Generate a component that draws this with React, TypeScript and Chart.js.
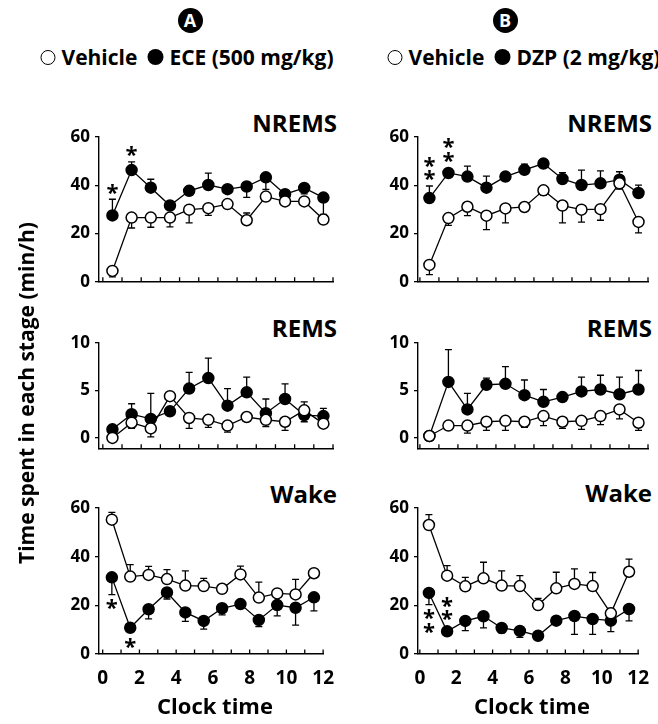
import React, { useEffect, useRef } from "react";
import { Chart, registerables } from "chart.js";
Chart.register(...registerables);

const FAMILY = "'Open Sans', 'DejaVu Sans', sans-serif";

// ---------- data ----------
const hours = [0.5, 1.5, 2.5, 3.5, 4.5, 5.5, 6.5, 7.5, 8.5, 9.5, 10.5, 11.5];
const hourTicks = [0, 1, 2, 3, 4, 5, 6, 7, 8, 9, 10, 11, 12];
const xLabelTicks = [0, 2, 4, 6, 8, 10, 12];
const ticks60 = [0, 20, 40, 60];
const ticks10 = [0, 5, 10];

// NREMS (min/h), signed SEM: + drawn upward, - drawn downward
const nremsVehA = [4.5, 26.6, 26.6, 26.6, 29.9, 30.5, 32.2, 25.5, 35.3, 33.3, 33.3, 25.8];
const nremsVehAErr = [-2.5, -4.3, -4, -3.8, -5.5, -3, -1, 3, -1, -1, -1, -1];
const nremsEce = [27.5, 46.3, 39, 31.6, 37.7, 40.1, 38.4, 39.5, 43.3, 36.3, 38.9, 34.9];
const nremsEceErr = [6.7, 3.4, 3.5, 1, 1, 4.9, 1, -4.5, -5, 1, -2.5, -7];
const nremsVehB = [7, 26.4, 31.1, 27.4, 30.4, 31, 37.9, 31.6, 29.9, 30.1, 40.8, 24.8];
const nremsVehBErr = [-4, -3, -3.7, -5.8, -6, -1, -2, -7.2, -5.2, -4.6, -2.4, -4.5];
const nremsDzp = [34.7, 45.1, 43.6, 39, 43.6, 46.4, 49, 42.6, 40.1, 40.8, 42.3, 36.8];
const nremsDzpErr = [5, 1, 4.3, 4.8, 1, 2.4, 1, 2.6, 6.2, 5.2, 3.3, 3.3];

// REMS
const remsVehA = [0, 1.6, 1.0, 4.4, 2.1, 1.9, 1.3, 2.2, 1.9, 1.7, 2.9, 1.5];
const remsVehAErr = [-0.2, -0.6, -0.9, -0.3, -1.1, -0.8, -0.7, -0.3, -0.7, -0.9, 0.9, -0.3];
const remsEce = [0.9, 2.5, 2.0, 2.8, 5.2, 6.3, 3.4, 4.8, 2.6, 4.1, 2.4, 2.3];
const remsEceErr = [0.3, 1.1, 2.7, 0.3, 1.7, 2.1, 1.8, 1.6, 1.5, 1.6, -0.7, 0.8];
const remsVehB = [0.2, 1.3, 1.3, 1.7, 1.8, 1.7, 2.3, 1.7, 1.8, 2.3, 3.0, 1.6];
const remsVehBErr = [-0.2, -0.3, -0.8, -0.9, -1.0, -0.6, -1.0, -0.7, -0.9, -0.9, -1.0, -0.8];
const remsDzp = [0.2, 5.9, 3.0, 5.6, 5.7, 4.5, 3.8, 4.3, 4.9, 5.1, 4.6, 5.1];
const remsDzpErr = [0.1, 3.4, 1.7, 0.7, 1.8, 1.6, 1.3, 0.3, 1.5, 1.5, 1.8, 2.0];

// Wake
const wakeVehA = [55.2, 31.8, 32.5, 30.8, 28.1, 27.9, 26.8, 32.7, 23.2, 24.9, 24.5, 33.2];
const wakeVehAErr = [3, 4.9, 3.5, 3.9, 6.1, 3.2, 1, 3.4, 6.3, 1, 6.2, 1];
const wakeEce = [31.5, 10.8, 18.4, 25.3, 17.1, 13.6, 18.8, 20.5, 14, 20.1, 19.0, 23.3];
const wakeEceErr = [-7.1, -1.5, -4, -2.7, -3.7, -3.4, -2.7, -1, -2.7, -4.4, -7.1, -5.6];
const wakeVehB = [53, 32.2, 27.8, 31.1, 28.1, 27.9, 20.1, 27, 28.8, 27.9, 16.7, 33.8];
const wakeVehBErr = [4.3, 4.1, 3.7, 6.6, 6.1, 4.3, 2.8, 6.6, 6.2, 5.6, 2, 5.2];
const wakeDzp = [25.1, 9.3, 13.6, 15.5, 10.7, 9.5, 7.5, 13.7, 15.6, 14.4, 13.7, 18.5];
const wakeDzpErr = [-4.8, -1.5, -4, -4.8, -2, -2.7, -1, -1, -7.5, -6.3, -4.5, -4.9];

// significance marks: point index, number of asterisks, side
type Star = { i: number; n: number; side: "above" | "below" };
const nremsEceStars: Star[] = [{ i: 0, n: 1, side: "above" }, { i: 1, n: 1, side: "above" }];
const nremsDzpStars: Star[] = [{ i: 0, n: 2, side: "above" }, { i: 1, n: 2, side: "above" }];
const wakeEceStars: Star[] = [{ i: 0, n: 1, side: "below" }, { i: 1, n: 1, side: "below" }];
const wakeDzpStars: Star[] = [{ i: 0, n: 2, side: "below" }, { i: 1, n: 2, side: "above" }];

// ---------- layout ----------
type Series = { values: number[]; errs: number[]; filled: boolean; stars?: Star[] };
type PanelSpec = {
  id: string;
  left: number; top: number; width: number; height: number;
  xMin: number; yMin: number; yMax: number; yTicks: number[];
  showXLabels: boolean; series: Series[];
};

const L = { left: 99, width: 234, xMin: -0.2 };
const R = { left: 418, width: 230, xMin: -0.1 };
const ROW_N = { top: 136.7, height: 146, yMin: 0, yMax: 60, yTicks: ticks60 };
const ROW_R = { top: 343, height: 107, yMin: -1.15, yMax: 10, yTicks: ticks10 };
const ROW_W = { top: 508, height: 146, yMin: 0, yMax: 60, yTicks: ticks60 };

const panels: PanelSpec[] = [
  { id: "nA", ...L, ...ROW_N, showXLabels: false, series: [
    { values: nremsVehA, errs: nremsVehAErr, filled: false },
    { values: nremsEce, errs: nremsEceErr, filled: true, stars: nremsEceStars }] },
  { id: "nB", ...R, ...ROW_N, showXLabels: false, series: [
    { values: nremsVehB, errs: nremsVehBErr, filled: false },
    { values: nremsDzp, errs: nremsDzpErr, filled: true, stars: nremsDzpStars }] },
  { id: "rA", ...L, ...ROW_R, showXLabels: false, series: [
    { values: remsVehA, errs: remsVehAErr, filled: false },
    { values: remsEce, errs: remsEceErr, filled: true }] },
  { id: "rB", ...R, ...ROW_R, showXLabels: false, series: [
    { values: remsVehB, errs: remsVehBErr, filled: false },
    { values: remsDzp, errs: remsDzpErr, filled: true }] },
  { id: "wA", ...L, ...ROW_W, showXLabels: true, series: [
    { values: wakeVehA, errs: wakeVehAErr, filled: false },
    { values: wakeEce, errs: wakeEceErr, filled: true, stars: wakeEceStars }] },
  { id: "wB", ...R, ...ROW_W, showXLabels: true, series: [
    { values: wakeVehB, errs: wakeVehBErr, filled: false },
    { values: wakeDzp, errs: wakeDzpErr, filled: true, stars: wakeDzpStars }] },
];

const POINT_R = 5.5;

const errorBarPlugin = {
  id: "errorBars",
  beforeDatasetsDraw(chart: any) {
    const ctx = chart.ctx;
    const ys = chart.scales.y;
    chart.data.datasets.forEach((ds: any, di: number) => {
      const meta = chart.getDatasetMeta(di);
      ds.errs.forEach((e: number, j: number) => {
        const pt = meta.data[j];
        const v = ds.data[j].y;
        const y0 = ys.getPixelForValue(v);
        const y1 = ys.getPixelForValue(v + e);
        ctx.save();
        ctx.strokeStyle = "#000";
        ctx.lineWidth = 1.3;
        ctx.beginPath();
        ctx.moveTo(pt.x, y0);
        ctx.lineTo(pt.x, y1);
        ctx.moveTo(pt.x - 3.5, y1);
        ctx.lineTo(pt.x + 3.5, y1);
        ctx.stroke();
        ctx.restore();
      });
    });
  },
};

const innerTickPlugin = {
  id: "innerTicks",
  afterDraw(chart: any) {
    const ctx = chart.ctx;
    const xs = chart.scales.x;
    const b = chart.chartArea.bottom;
    ctx.save();
    ctx.strokeStyle = "#000";
    ctx.lineWidth = 1.3;
    ctx.beginPath();
    hourTicks.forEach((v) => {
      const x = xs.getPixelForValue(v);
      ctx.moveTo(x, b);
      ctx.lineTo(x, b - 4.5);
    });
    ctx.stroke();
    ctx.restore();
  },
};

const starPlugin = {
  id: "stars",
  afterDatasetsDraw(chart: any) {
    const ctx = chart.ctx;
    const ys = chart.scales.y;
    ctx.save();
    ctx.fillStyle = "#000";
    ctx.font = `bold 22px ${FAMILY}`;
    ctx.textAlign = "center";
    ctx.textBaseline = "alphabetic";
    const m = ctx.measureText("*");
    const asc = m.actualBoundingBoxAscent;
    const desc = m.actualBoundingBoxDescent;
    chart.data.datasets.forEach((ds: any, di: number) => {
      if (!ds.stars) return;
      const meta = chart.getDatasetMeta(di);
      ds.stars.forEach((s: Star) => {
        const pt = meta.data[s.i];
        const v = ds.data[s.i].y;
        const e = ds.errs[s.i];
        const yp = ys.getPixelForValue(v);
        const ye = ys.getPixelForValue(v + e);
        for (let k = 0; k < s.n; k++) {
          let cy;
          if (s.side === "above") {
            const base = Math.min(yp - POINT_R, e > 0 ? ye : Infinity);
            cy = base - 10 - k * 13.5;
          } else {
            const base = Math.max(yp + POINT_R, e < 0 ? ye : -Infinity);
            cy = base + 10 + k * 13.5;
          }
          ctx.fillText("*", pt.x, cy + (asc - desc) / 2);
        }
      });
    });
    ctx.restore();
  },
};

function Panel({ spec }: { spec: PanelSpec }) {
  const ref = useRef<HTMLCanvasElement>(null);
  const M = { l: 60, r: 14, t: 30, b: spec.showXLabels ? 46 : 14 };
  const W = M.l + spec.width + M.r;
  const H = M.t + spec.height + M.b;
  useEffect(() => {
    const chart = new Chart(ref.current as HTMLCanvasElement, {
      type: "line",
      data: {
        datasets: spec.series.map((s) => ({
          data: hours.map((h, i) => ({ x: h, y: s.values[i] })),
          errs: s.errs,
          stars: s.stars,
          borderColor: "#000",
          borderWidth: 1.3,
          pointRadius: POINT_R,
          pointBorderWidth: 1.5,
          pointBackgroundColor: s.filled ? "#000" : "#fff",
          pointBorderColor: "#000",
          tension: 0,
          fill: false,
          clip: false,
        })) as any,
      },
      options: {
        responsive: false,
        animation: false,
        events: [],
        layout: { padding: { left: 0, right: M.r, top: M.t, bottom: 0 } },
        plugins: { legend: { display: false }, tooltip: { enabled: false } },
        scales: {
          x: {
            type: "linear",
            min: spec.xMin,
            max: 12,
            afterBuildTicks: (s: any) => {
              s.ticks = xLabelTicks.map((v) => ({ value: v }));
            },
            afterFit: (s: any) => {
              s.height = M.b;
            },
            grid: { drawOnChartArea: false, drawTicks: false, color: "#000" },
            border: { display: true, color: "#000", width: 1.4 },
            ticks: {
              display: spec.showXLabels,
              autoSkip: false,
              maxRotation: 0,
              padding: 13,
              color: "#000",
              font: { family: FAMILY, size: 19, weight: "bold" },
            },
          },
          y: {
            type: "linear",
            min: spec.yMin,
            max: spec.yMax,
            afterBuildTicks: (s: any) => {
              s.ticks = spec.yTicks.map((v) => ({ value: v }));
            },
            afterFit: (s: any) => {
              s.width = M.l;
            },
            grid: { drawOnChartArea: false, drawTicks: true, tickLength: 4, color: "#000", lineWidth: 1.3 },
            border: { display: true, color: "#000", width: 1.4 },
            ticks: {
              padding: 5,
              color: "#000",
              font: { family: FAMILY, size: 17, weight: "bold" },
            },
          },
        },
      } as any,
      plugins: [errorBarPlugin, innerTickPlugin, starPlugin],
    });
    return () => chart.destroy();
  }, []);
  return (
    <canvas
      ref={ref}
      width={W}
      height={H}
      style={{ position: "absolute", left: spec.left - M.l, top: spec.top - M.t, width: W, height: H }}
    />
  );
}

function Text({ x, y, size, text, align = "center" }: { x: number; y: number; size: number; text: string; align?: string }) {
  const style: any = {
    position: "absolute",
    top: y - 0.53 * size,
    fontFamily: FAMILY,
    fontWeight: 700,
    fontSize: size,
    lineHeight: `${size}px`,
    whiteSpace: "nowrap",
    color: "#000",
  };
  if (align === "right") style.right = 658 - x;
  else if (align === "left") style.left = x;
  else {
    style.left = x;
    style.transform = "translateX(-50%)";
  }
  return <div style={style}>{text}</div>;
}

function Badge({ x, y, letter }: { x: number; y: number; letter: string }) {
  return (
    <div
      style={{
        position: "absolute",
        left: x - 12.5,
        top: y - 12.5,
        width: 25,
        height: 25,
        borderRadius: "50%",
        background: "#000",
        color: "#fff",
        fontFamily: FAMILY,
        fontWeight: 700,
        fontSize: 18,
        display: "flex",
        alignItems: "center",
        justifyContent: "center",
        lineHeight: "25px",
      }}
    >
      {letter}
    </div>
  );
}

function Legend({ cx, y, drug }: { cx: number; y: number; drug: string }) {
  const size = 21;
  const dot = (filled: boolean) => (
    <span
      style={{
        display: "inline-block",
        width: filled ? 16 : 13,
        height: filled ? 16 : 13,
        borderRadius: "50%",
        border: filled ? "none" : "1.5px solid #000",
        background: filled ? "#000" : "#fff",
        marginRight: 6,
      }}
    />
  );
  return (
    <div
      style={{
        position: "absolute",
        left: cx,
        top: y - size / 2,
        height: size,
        transform: "translateX(-50%)",
        display: "flex",
        alignItems: "center",
        whiteSpace: "nowrap",
        fontFamily: FAMILY,
        fontWeight: 700,
        fontSize: size,
        lineHeight: `${size}px`,
        color: "#000",
      }}
    >
      {dot(false)}
      <span style={{ marginRight: 10 }}>Vehicle</span>
      {dot(true)}
      <span>{drug}</span>
    </div>
  );
}

export default function App() {
  return (
    <div
      style={{
        position: "absolute",
        left: 0,
        top: 0,
        width: 658,
        height: 724,
        overflow: "hidden",
        background: "#fff",
      }}
    >
      <Badge x={190} y={20} letter="A" />
      <Badge x={505} y={20} letter="B" />
      <Legend cx={187} y={57} drug="ECE (500 mg/kg)" />
      <Legend cx={524} y={57} drug="DZP (2 mg/kg)" />

      <Text x={337} y={123.5} size={24} text="NREMS" align="right" />
      <Text x={652} y={123.5} size={24} text="NREMS" align="right" />
      <Text x={337} y={328.5} size={24} text="REMS" align="right" />
      <Text x={652} y={328.5} size={24} text="REMS" align="right" />
      <Text x={337} y={495} size={24} text="Wake" align="right" />
      <Text x={652} y={494} size={24} text="Wake" align="right" />

      {panels.map((p) => (
        <Panel key={p.id} spec={p} />
      ))}

      <Text x={215} y={706} size={22} text="Clock time" />
      <Text x={532} y={706} size={22} text="Clock time" />

      <div
        style={{
          position: "absolute",
          left: 26 - 200,
          top: 393 - 12,
          width: 400,
          height: 24,
          lineHeight: "24px",
          textAlign: "center",
          transform: "rotate(-90deg)",
          fontFamily: FAMILY,
          fontWeight: 700,
          fontSize: 21,
          whiteSpace: "nowrap",
          color: "#000",
        }}
      >
        Time spent in each stage (min/h)
      </div>
    </div>
  );
}
